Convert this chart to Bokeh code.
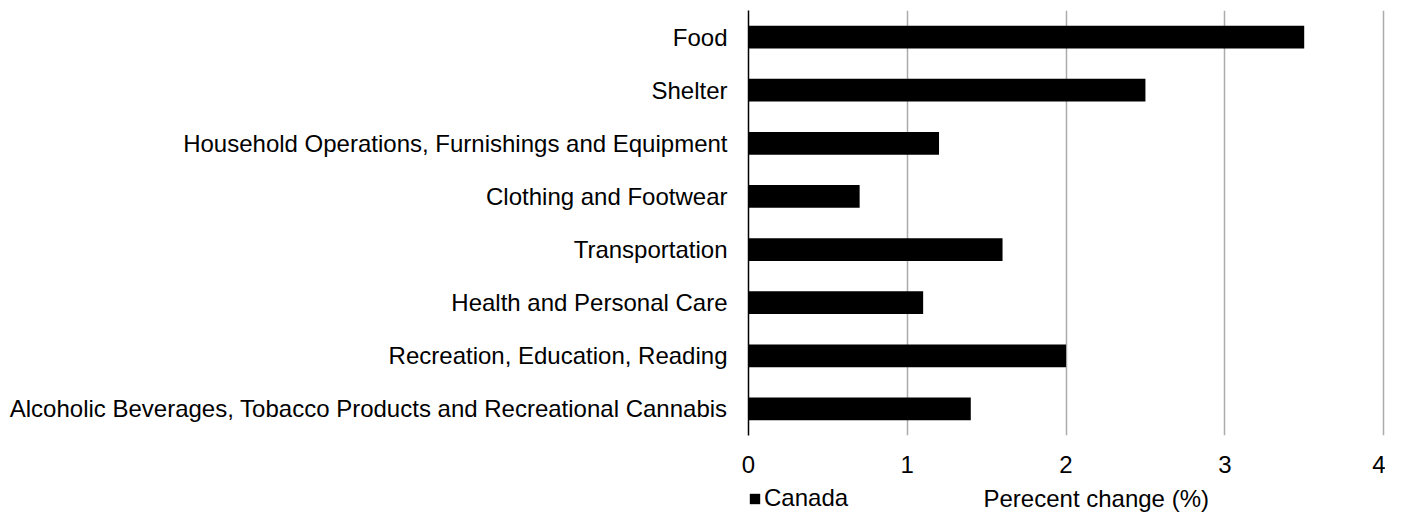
from bokeh.plotting import figure
from bokeh.models import Range1d, FixedTicker, Label, Legend, LegendItem, ColumnDataSource
from bokeh.layouts import column
from bokeh.embed import file_html
from bokeh.resources import INLINE

categories = [
    "Food",
    "Shelter",
    "Household Operations, Furnishings and Equipment",
    "Clothing and Footwear",
    "Transportation",
    "Health and Personal Care",
    "Recreation, Education, Reading",
    "Alcoholic Beverages, Tobacco Products and Recreational Cannabis",
]
canada = [3.5, 2.5, 1.2, 0.7, 1.6, 1.1, 2.0, 1.4]
x_ticks = [0, 1, 2, 3, 4]
series_name = "Canada"
x_title = "Perecent change (%)"

FONT = "Liberation Sans"
W = 1385

# ---- main chart ----
p = figure(
    width=W, height=483,
    y_range=list(reversed(categories)),
    x_range=Range1d(0, 4.012),
    output_backend="svg", toolbar_location=None,
    min_border_left=748, min_border_right=0, min_border_top=10, min_border_bottom=48,
)
p.outline_line_color = None
p.background_fill_color = "white"
p.border_fill_color = "white"

src = ColumnDataSource(dict(cat=categories, val=canada))
r = p.hbar(y="cat", right="val", left=0, height=0.43, source=src,
           fill_color="black", line_color=None)

p.ygrid.grid_line_color = None
p.xgrid.grid_line_color = "#ababab"
p.xgrid.grid_line_width = 1.5
p.xgrid.ticker = FixedTicker(ticks=x_ticks)

xa = p.xaxis[0]
xa.ticker = FixedTicker(ticks=x_ticks)
xa.axis_line_color = None
xa.major_tick_line_color = None
xa.minor_tick_line_color = None
xa.major_tick_out = 0
xa.major_tick_in = 0
xa.major_label_standoff = 20
xa.major_label_text_font = FONT
xa.major_label_text_font_size = "24px"
xa.major_label_text_color = "black"

ya = p.yaxis[0]
ya.axis_line_color = "black"
ya.axis_line_width = 1.5
ya.major_tick_line_color = None
ya.minor_tick_line_color = None
ya.major_tick_out = 0
ya.major_tick_in = 0
ya.major_label_standoff = 21
ya.major_label_text_font = FONT
ya.major_label_text_font_size = "24px"
ya.major_label_text_color = "black"

# ---- bottom strip: axis title and legend (frame aligned with the chart) ----
H2 = 30
p2 = figure(
    width=W, height=H2,
    x_range=p.x_range, y_range=Range1d(0, H2),
    x_axis_type=None, y_axis_type=None,
    output_backend="svg", toolbar_location=None,
    min_border_left=748, min_border_right=0,
    min_border_top=0, min_border_bottom=0,
)
p2.outline_line_color = None
p2.background_fill_color = "white"
p2.border_fill_color = "white"

# legend key proxy (kept outside the visible strip; only its swatch is shown)
key_src = ColumnDataSource(dict(y=[-1000.0], right=[0.0]))
key = p2.hbar(y="y", right="right", left=0, height=1, source=key_src,
              fill_color="black", line_color=None)

p2.add_layout(Label(x=235, x_units="screen", y=15, y_units="screen",
                    text=x_title, text_align="left",
                    text_baseline="middle", text_font=FONT,
                    text_font_size="24px", text_color="black"))

legend = Legend(items=[LegendItem(label=series_name, renderers=[key])],
                location=(0, 1), orientation="horizontal",
                padding=0, margin=0, spacing=0, label_standoff=3,
                glyph_width=13, glyph_height=13,
                label_text_font=FONT, label_text_font_size="24px",
                label_text_color="black",
                border_line_color=None, background_fill_alpha=0)
p2.add_layout(legend, "center")

layout = column(p, p2, spacing=0)
open("out.html", "w").write(file_html(layout, INLINE))
